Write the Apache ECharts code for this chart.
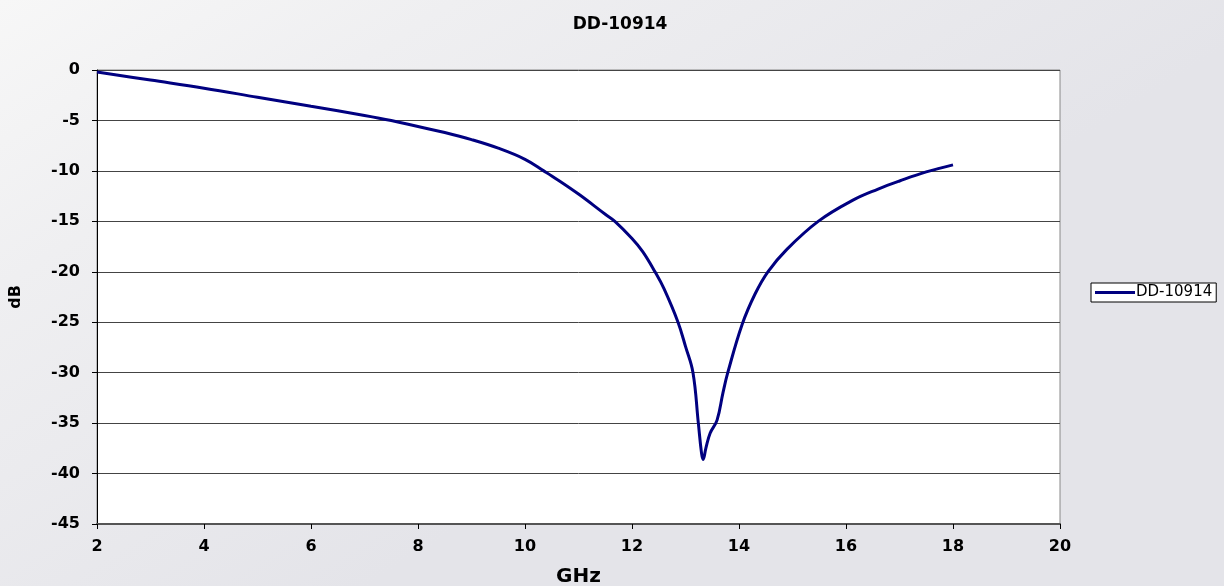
<!DOCTYPE html>
<html>
<head>
<meta charset="utf-8">
<script src="https://cdn.jsdelivr.net/npm/echarts@6/dist/echarts.min.js"></script>
<style>
html,body{margin:0;padding:0;}
#c{width:1224px;height:586px;}
</style>
</head>
<body>
<div id="c"></div>
<script>
// Data
const title = 'DD-10914';
const seriesName = 'DD-10914';
const freqGHz = [2.0, 3.0, 4.0, 5.0, 6.0, 7.0, 7.5, 8.0, 8.5, 9.0, 9.5, 10.0, 10.35, 10.5, 11.0, 11.5, 11.68, 12.0, 12.2, 12.43, 12.6, 12.86, 13.0, 13.14, 13.24, 13.3, 13.33, 13.38, 13.46, 13.59, 13.7, 13.79, 14.06, 14.3, 14.54, 14.89, 15.48, 16.13, 16.6, 17.0, 17.5, 18.0];
const lossDb = [-0.2, -1.0, -1.8, -2.7, -3.6, -4.5, -5.0, -5.6, -6.2, -6.9, -7.75, -8.85, -10.0, -10.5, -12.3, -14.3, -15.0, -16.7, -18.0, -20.0, -21.7, -25.0, -27.4, -30.0, -35.0, -38.0, -38.6, -37.5, -36.0, -34.7, -32.0, -30.0, -25.2, -22.2, -20.0, -17.8, -15.0, -12.9, -11.8, -11.0, -10.1, -9.4];
const xTicks = [2, 4, 6, 8, 10, 12, 14, 16, 18, 20];
const yTicks = [0, -5, -10, -15, -20, -25, -30, -35, -40, -45];

const points = freqGHz.map((f, i) => [f, lossDb[i]]);
const font = 'DejaVu Sans, Liberation Sans, Arial, sans-serif';

const chart = echarts.init(document.getElementById('c'));
chart.setOption({
  backgroundColor: {
    type: 'linear', x: 0, y: 0, x2: 0.3, y2: 1,
    colorStops: [
      {offset: 0, color: '#f7f7f7'},
      {offset: 0.35, color: '#efeff1'},
      {offset: 1, color: '#e4e4e9'}
    ]
  },
  animation: false,
  title: {
    text: title,
    left: 615, top: 11, textAlign: 'center',
    textStyle: {fontFamily: font, fontSize: 17, fontWeight: 'bold', color: '#000'}
  },
  legend: {
    data: [seriesName],
    left: 1091, top: 283,
    orient: 'vertical',
    backgroundColor: '#fff',
    borderColor: '#000', borderWidth: 1, borderRadius: 0,
    padding: [2, 4, 2, 4],
    icon: 'rect', itemWidth: 40, itemHeight: 3, itemGap: 0,
    textStyle: {fontFamily: font, fontSize: 15, color: '#000', padding: [0, 0, 0, -4]}
  },
  grid: {
    left: 97, right: 164, top: 70, bottom: 62,
    containLabel: false, outerBoundsMode: 'none',
    show: true, backgroundColor: '#fff', borderColor: '#888', borderWidth: 1
  },
  xAxis: {
    type: 'value', min: 2, max: 20, interval: 2,
    name: 'GHz', nameLocation: 'middle', nameGap: 43,
    nameTextStyle: {fontFamily: font, fontSize: 20, fontWeight: 'bold', color: '#000'},
    axisLine: {show: true, onZero: false, lineStyle: {color: '#555', width: 2}},
    axisTick: {show: true, length: 5, lineStyle: {color: '#000'}},
    axisLabel: {
      fontFamily: font, fontSize: 16, fontWeight: 'bold', color: '#000', margin: 15,
      formatter: v => xTicks.includes(v) ? String(v) : ''
    },
    splitLine: {show: false}
  },
  yAxis: {
    type: 'value', min: -45, max: 0, interval: 5,
    name: 'dB', nameLocation: 'middle', nameGap: 73, nameRotate: 90,
    nameTextStyle: {fontFamily: font, fontSize: 16, fontWeight: 'bold', color: '#000'},
    axisLine: {show: true, onZero: false, lineStyle: {color: '#000', width: 1}},
    axisTick: {show: true, length: 5, lineStyle: {color: '#000'}},
    axisLabel: {
      fontFamily: font, fontSize: 16, fontWeight: 'bold', color: '#000', margin: 17,
      formatter: v => yTicks.includes(v) ? String(v) : ''
    },
    splitLine: {show: true, lineStyle: {color: '#444', width: 1}}
  },
  series: [{
    name: seriesName,
    type: 'line',
    data: points,
    smooth: 0.4,
    showSymbol: false,
    symbol: 'none',
    color: '#000080',
    lineStyle: {color: '#000080', width: 3}
  }]
});
</script>
</body>
</html>
